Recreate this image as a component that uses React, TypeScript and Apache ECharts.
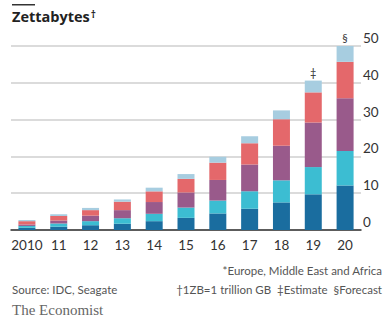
import React, { useEffect, useRef } from "react";
import * as echarts from "echarts";

const years = ["2010", "11", "12", "13", "14", "15", "16", "17", "18", "19", "20"];
const seriesNames = ["China", "United States", "EMEA*", "Asia-Pacific", "Rest of world"];
const china = [0.6, 0.9, 1.3, 1.7, 2.4, 3.3, 4.5, 5.8, 7.5, 9.7, 12.1];
const unitedStates = [0.5, 0.9, 1.1, 1.5, 2.0, 2.8, 3.5, 4.7, 6.0, 7.4, 9.4];
const emea = [0.4, 0.8, 1.5, 2.2, 3.2, 4.1, 5.6, 7.3, 9.4, 12.1, 14.3];
const asiaPacific = [0.9, 1.2, 1.5, 2.3, 2.9, 3.7, 4.7, 5.8, 7.2, 8.2, 9.9];
const restOfWorld = [0.3, 0.5, 0.6, 0.6, 1.0, 1.3, 1.6, 1.9, 2.4, 3.2, 4.3];
const barMarks = ["", "", "", "", "", "", "", "", "", "‡", "§"];
const yTicks = [0, 10, 20, 30, 40, 50];

const colors = ["#1a6d9f", "#3cbdd2", "#995a8b", "#e4686b", "#a7cde0"];
const FONT = "Lato, 'Open Sans', sans-serif";

export default function App() {
  const ref = useRef<HTMLDivElement>(null);
  useEffect(() => {
    if (!ref.current) return;
    const chart = echarts.init(ref.current, null, { renderer: "svg" });
    const data = [china, unitedStates, emea, asiaPacific, restOfWorld];
    chart.setOption({
      animation: false,
      grid: { left: 11, right: 22, top: 46, bottom: 89, containLabel: false },
      xAxis: {
        type: "category",
        data: years,
        axisLine: { lineStyle: { color: "#333", width: 1.5 } },
        axisTick: { alignWithLabel: true, length: 4, lineStyle: { color: "#333", width: 1 } },
        axisLabel: { color: "#333", fontSize: 13.5, fontFamily: FONT, margin: 8, interval: 0 },
      },
      yAxis: {
        type: "value",
        position: "right",
        min: yTicks[0],
        max: yTicks[yTicks.length - 1],
        interval: 10,
        axisLine: { show: false },
        axisTick: { show: false },
        splitLine: { lineStyle: { color: "#cfcfcf", width: 1.5 } },
        axisLabel: {
          color: "#333",
          fontSize: 13.5,
          fontFamily: FONT,
          margin: 2,
          verticalAlign: "bottom",
          padding: [0, 0, 1, 0],
        },
      },
      series: data.map((d, i) => ({
        name: seriesNames[i],
        type: "bar",
        stack: "total",
        barWidth: 17,
        data: d,
        itemStyle: { color: colors[i] },
        label:
          i === data.length - 1
            ? {
                show: true,
                position: "top",
                distance: 3,
                color: "#333",
                textBorderWidth: 0,
                fontSize: 11,
                fontFamily: FONT,
                formatter: (p: any) => barMarks[p.dataIndex],
              }
            : { show: false },
      })),
      graphic: [
        { type: "rect", shape: { x: 12, y: 4, width: 23, height: 1.5 }, style: { fill: "#333" } },
        {
          type: "text",
          x: 12,
          y: 9,
          style: {
            text: "{a|Zettabytes}{b|†}",
            rich: {
              a: { fill: "#222", font: `bold 14.5px 'Open Sans', sans-serif` },
              b: { fill: "#222", font: `bold 10px 'Open Sans', sans-serif`, verticalAlign: "top", padding: [0, 0, 4, 1] },
            },
          },
        },
        {
          type: "text",
          x: 382,
          y: 264,
          style: { text: "*Europe, Middle East and Africa", fill: "#555", font: `11.5px ${FONT}`, align: "right" },
        },
        {
          type: "text",
          x: 12,
          y: 283,
          style: { text: "Source: IDC, Seagate", fill: "#555", font: `11.5px ${FONT}` },
        },
        {
          type: "text",
          x: 382,
          y: 283,
          style: { text: "†1ZB=1 trillion GB  ‡Estimate  §Forecast", fill: "#555", font: `11.5px ${FONT}`, align: "right" },
        },
        {
          type: "text",
          x: 12,
          y: 302,
          style: { text: "The Economist", fill: "#666", font: `15px 'Liberation Serif', 'DejaVu Serif', serif` },
        },
      ],
    });
    return () => chart.dispose();
  }, []);
  return (
    <div style={{ position: "fixed", left: 0, top: 0, width: 383, height: 319, overflow: "hidden", background: "#fff" }}>
      <div ref={ref} style={{ width: 383, height: 319 }} />
    </div>
  );
}
